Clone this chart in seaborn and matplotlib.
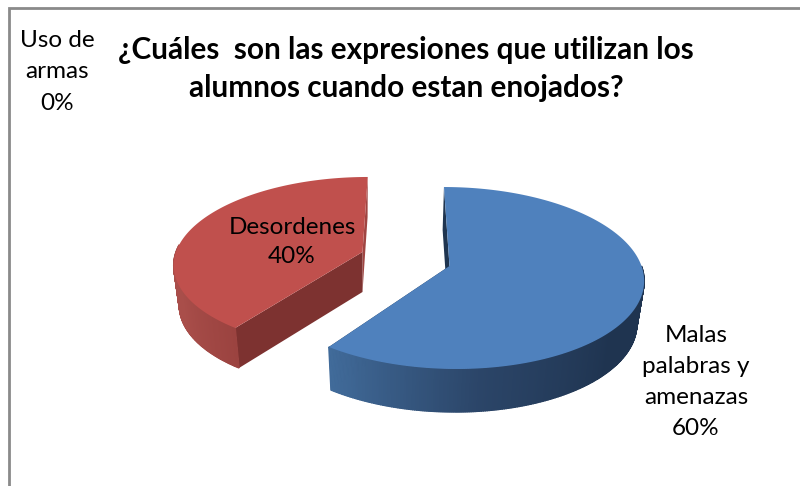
import numpy as np
import matplotlib
matplotlib.use("Agg")
import matplotlib.pyplot as plt
import seaborn as sns

# --- data -------------------------------------------------------------
title = "¿Cuáles  son las expresiones que utilizan los\nalumnos cuando estan enojados?"
categories = ["Malas\npalabras y\namenazas", "Desordenes", "Uso de\narmas"]
shares = [60, 40, 0]

# --- style ------------------------------------------------------------
sns.set_theme(style="white")
plt.rcParams["font.family"] = ["Lato", "DejaVu Sans"]

BLUE_TOP, RED_TOP = "#4F81BD", "#C0504D"
BLUE_ARC = sns.blend_palette(["#1F3450", "#1F3450", "#2B4568", "#416B9A"], 240)
RED_ARC = sns.blend_palette(["#9B4340", "#A94E4A", "#A94E4A"], 120)
BLUE_FLANK, RED_FLANK = "#1F3550", "#7D3230"
RED_REAR = "#A04542"
FRAME = "#8A8A8A"

fig = plt.figure(figsize=(8, 4.86), dpi=100, facecolor="white")
ax = fig.add_axes([0, 0, 1, 1])
ax.set_xlim(0, 800)
ax.set_ylim(486, 0)
ax.axis("off")

# chart frame
ax.plot([9.2, 9.2, 800], [486, 8.2, 8.2], color=FRAME, lw=2.0, solid_capstyle="butt",
        solid_joinstyle="miter", zorder=1)


def project(theta, radius, g):
    """Perspective projection of a point of the pie disc (clockwise from the back)."""
    s, c = np.sin(theta) * radius, np.cos(theta) * radius
    w = 1 + g["k"] * c
    dy = -g["B"] * c / w
    dx = g["A"] * s / w + g["shear"] * dy
    return dx, dy


def top_xy(theta, radius, g):
    dx, dy = project(theta, radius, g)
    return g["cx"] + dx, g["cy"] + dy


def bottom_xy(theta, radius, g):
    dx, dy = project(theta, radius, g)
    return g["cx"] + g["sf"] * dx + g["shift"], g["cy"] + dy + g["D"]


def draw_slice(start, end, g, top_col, flank_col, rear_col, arc_cols, arc_range):
    t0, t1 = np.radians(start), np.radians(end)
    apex, apex_b = top_xy(t0, 0, g), bottom_xy(t0, 0, g)
    # rear flank (start edge for the blue slice, end edge for the red one)
    rear = t0 if g["rear_is_start"] else t1
    ax.fill(*zip(top_xy(rear, 1, g), apex, apex_b, bottom_xy(rear, 1, g)), color=rear_col, lw=0, zorder=2)
    # front flank
    front = t1 if g["rear_is_start"] else t0
    ax.fill(*zip(top_xy(front, 1, g), apex, apex_b, bottom_xy(front, 1, g)), color=flank_col, lw=0, zorder=3)
    # outer wall with gradient
    edges = np.linspace(np.radians(arc_range[0]), np.radians(arc_range[1]), len(arc_cols) + 1)
    for a, b, col in zip(edges[:-1], edges[1:], arc_cols):
        ts = np.linspace(a, b, 3)
        upper = np.array([top_xy(t, 1, g) for t in ts])
        lower = np.array([bottom_xy(t, 1, g) for t in ts[::-1]])
        poly = np.vstack([upper, lower])
        ax.fill(poly[:, 0], poly[:, 1], color=col, lw=1.0, ec=col, zorder=4)
    # top face
    ts = np.linspace(t0, t1, 160)
    arc = np.array([top_xy(t, 1, g) for t in ts])
    poly = np.vstack([[apex], arc])
    ax.fill(poly[:, 0], poly[:, 1], color=top_col, lw=0, zorder=5)


angles = np.cumsum([0] + shares) * 3.6

blue_geom = dict(cx=449.5, cy=266, A=192, B=89.4, k=0.132, shear=0.07, sf=0.97, shift=-1.5, D=43, rear_is_start=True)
red_geom = dict(cx=362.5, cy=252, A=186.5, B=84.4, k=0.125, shear=-0.07, sf=0.97, shift=0, D=40, rear_is_start=False)

draw_slice(angles[0], angles[1], blue_geom, BLUE_TOP, BLUE_FLANK, BLUE_FLANK, BLUE_ARC, (90, angles[1]))
draw_slice(angles[1], angles[2], red_geom, RED_TOP, RED_FLANK, RED_REAR, RED_ARC, (angles[1], 275))

# --- texts ------------------------------------------------------------
label_fs, title_fs = 17.5, 21.4
ax.text(406, 69, title, ha="center", va="center", fontsize=title_fs, fontweight="bold", color="black",
        linespacing=1.43, zorder=6)
ax.text(696, 382, f"{categories[0]}\n{shares[0]}%", ha="center", va="center", fontsize=label_fs, color="black",
        linespacing=1.6, zorder=6)
ax.text(292, 242, f"{categories[1]}\n{shares[1]}%", ha="center", va="center", fontsize=label_fs, color="black",
        linespacing=1.5, zorder=6)
ax.text(57, 72, f"{categories[2]}\n{shares[2]}%", ha="center", va="center", fontsize=label_fs, color="black",
        linespacing=1.62, zorder=6)

fig.savefig("out.png", dpi=100, facecolor="white")
